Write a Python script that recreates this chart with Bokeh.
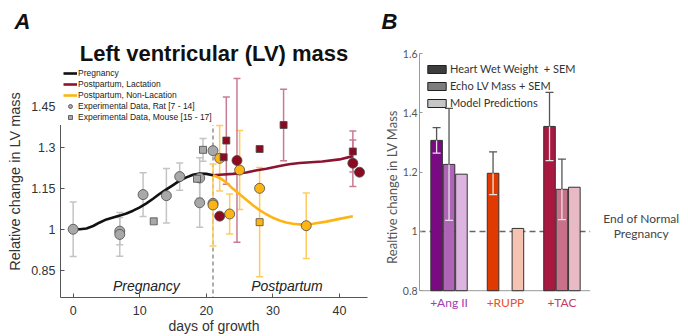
from bokeh.plotting import figure
from bokeh.layouts import row, column
from bokeh.models import (ColumnDataSource, Whisker, TeeHead, Span, Title,
                          Legend, LegendItem, FixedTicker)
from bokeh.core.properties import value
from bokeh.embed import file_html
from bokeh.resources import INLINE

# ---------------- Panel A data (days of growth, relative LV mass) ----------------
preg_model_day = [0, 1, 2, 3, 4, 5, 6, 7, 8, 9, 10, 11, 12, 13, 14, 15, 16, 17, 18, 19, 20, 21]
preg_model_val = [1.0, 1.0, 1.003, 1.012, 1.025, 1.036, 1.043, 1.05, 1.058, 1.068, 1.08, 1.095,
                  1.112, 1.13, 1.146, 1.162, 1.178, 1.19, 1.2, 1.204, 1.203, 1.198]

lact_model_day = [21, 22, 24, 26, 27.4, 29, 31, 32.4, 34, 37.4, 40, 42]
lact_model_val = [1.198, 1.2, 1.203, 1.208, 1.215, 1.222, 1.232, 1.238, 1.243, 1.248, 1.256, 1.268]

nonlact_model_day = [21, 22, 23, 24, 25, 26, 27, 28, 29, 30, 31, 32, 33, 34, 35, 36, 38, 40, 42]
nonlact_model_val = [1.198, 1.188, 1.172, 1.148, 1.128, 1.108, 1.088, 1.07, 1.055, 1.042, 1.032,
                     1.025, 1.02, 1.018, 1.018, 1.02, 1.028, 1.038, 1.048]

rat_preg_day = [0, 7, 7, 10.5, 14.0, 16.0, 19.0, 19.0, 21.0, 21.0]
rat_preg_val = [1.0, 0.993, 0.981, 1.127, 1.123, 1.193, 1.188, 1.097, 1.288, 1.095]
rat_preg_err = [0.10, 0.05, 0.08, 0.08, 0.10, 0.05, 0.074, 0.09, 0.0, 0.0]

mouse_preg_day = [12.1, 18.6, 19.5]
mouse_preg_val = [1.029, 1.185, 1.291]
mouse_preg_err = [0.0, 0.0, 0.042]

rat_lact_day = [22.0, 24.6, 42.0, 43.0]
rat_lact_val = [1.048, 1.252, 1.242, 1.209]
rat_lact_err = [0.0, 0.30, 0.085, 0.0]

mouse_lact_day = [22.6, 23.0, 28.0, 31.6, 42.0]
mouse_lact_val = [1.264, 1.325, 1.294, 1.382, 1.285]
mouse_lact_err = [0.0, 0.16, 0.0, 0.131, 0.075]

rat_nonlact_day = [21.0, 22.0, 23.5, 25.0, 28.0, 35.0]
rat_nonlact_val = [1.089, 1.26, 1.056, 1.217, 1.15, 1.013]
rat_nonlact_err = [0.15, 0.12, 0.073, 0.145, 0.0, 0.12]

mouse_nonlact_day = [28.0]
mouse_nonlact_val = [1.026]
mouse_nonlact_err = [0.2]

end_of_pregnancy_day = 21
a_yticks = [0.85, 1.0, 1.15, 1.3, 1.45]
a_ytick_labels = ["0.85", "1", "1.15", "1.3", "1.45"]
a_xticks = [0, 10, 20, 30, 40]

# ---------------- Panel B data ----------------
groups = ["+Ang II", "+RUPP", "+TAC"]
hww_mean = [1.307, 1.196, 1.354]
hww_sem = [0.043, 0.072, 0.115]
echo_mean = [1.226, None, 1.142]
echo_sem = [0.189, None, 0.102]
model_pred = [1.193, 1.010, 1.149]
b_yticks = [0.8, 1.0, 1.2, 1.4, 1.6]
b_ytick_labels = ["0.8", "1", "1.2", "1.4", "1.6"]
b_reference_level = 1.0

FONT_A = "Liberation Sans"
FONT_B = "Lato"

# ======================= Panel A =======================
pA = figure(width=380, height=336, x_range=(-1.9, 44.2), y_range=(0.75, 1.6),
            output_backend="svg", toolbar_location=None,
            min_border_left=60, min_border_right=13, min_border_top=65, min_border_bottom=39)
pA.outline_line_color = None
pA.xgrid.visible = False
pA.ygrid.visible = False

# outermost title: panel letter
pA.title.text = "A"
pA.title.align = "left"
pA.title.offset = -46
pA.title.standoff = 10
pA.title.text_font = FONT_A
pA.title.text_font_size = "22px"
pA.title.text_font_style = "bold italic"
pA.title.text_color = "#111"
# inner title: chart title
pA.add_layout(Title(text="Left ventricular (LV) mass", align="center", standoff=0,
                    text_font=FONT_A, text_font_size="22px", text_font_style="bold",
                    text_color="#111"), "above")

pA.xaxis.ticker = FixedTicker(ticks=a_xticks)
pA.yaxis.ticker = FixedTicker(ticks=a_yticks)
pA.yaxis.major_label_overrides = {t: l for t, l in zip(a_yticks, a_ytick_labels)}
pA.xaxis.axis_label = "days of growth"
pA.yaxis.axis_label = "Relative change in LV mass"
for ax in (pA.xaxis[0], pA.yaxis[0]):
    ax.axis_line_color = "#555"
    ax.major_tick_line_color = "#555"
    ax.major_tick_in = 4
    ax.major_tick_out = 0
    ax.minor_tick_line_color = None
    ax.major_label_text_font = FONT_A
    ax.major_label_text_font_size = "12.5px"
    ax.major_label_text_color = "#333"
    ax.axis_label_text_font = FONT_A
    ax.axis_label_text_font_style = "normal"
    ax.axis_label_text_color = "#333"
pA.xaxis.axis_label_text_font_size = "14px"
pA.yaxis.axis_label_text_font_size = "14.5px"
pA.xaxis.major_label_standoff = 8
pA.xaxis.axis_label_standoff = 0
pA.yaxis.major_label_standoff = 5
pA.yaxis.axis_label_standoff = 5

pA.add_layout(Span(location=end_of_pregnancy_day, dimension="height", line_color="#777",
                   line_dash="4 3", line_width=1.2, level="underlay"))


def add_err(p, days, vals, errs, color, size=7):
    xs = [d for d, e in zip(days, errs) if e and e > 0]
    lo = [v - e for v, e in zip(vals, errs) if e and e > 0]
    hi = [v + e for v, e in zip(vals, errs) if e and e > 0]
    src = ColumnDataSource(dict(x=xs, lo=lo, hi=hi))
    w = Whisker(source=src, base="x", lower="lo", upper="hi", dimension="height",
                line_color=color, line_width=1.5, level="underlay",
                upper_head=TeeHead(size=size, line_color=color, line_width=1.5),
                lower_head=TeeHead(size=size, line_color=color, line_width=1.5))
    p.add_layout(w)


GRAY_ERR = "#c4c4c4"
YEL_ERR = "#ffcc5c"
RED_ERR = "#c97b93"
add_err(pA, rat_preg_day, rat_preg_val, rat_preg_err, GRAY_ERR)
add_err(pA, mouse_preg_day, mouse_preg_val, mouse_preg_err, GRAY_ERR)
add_err(pA, rat_nonlact_day, rat_nonlact_val, rat_nonlact_err, YEL_ERR)
add_err(pA, mouse_nonlact_day, mouse_nonlact_val, mouse_nonlact_err, YEL_ERR)
add_err(pA, rat_lact_day, rat_lact_val, rat_lact_err, RED_ERR)
add_err(pA, mouse_lact_day, mouse_lact_val, mouse_lact_err, RED_ERR)

BLACK = "#111111"
RED = "#8c1430"
YEL = "#fdb515"
RED_PT = "#8b0a20"
GRAY_PT = "#a8a8a8"
EDGE = "#4a4a4a"

r_preg = pA.line(preg_model_day, preg_model_val, line_color=BLACK, line_width=2.6)
r_lact = pA.line(lact_model_day, lact_model_val, line_color=RED, line_width=2.6)
r_nonl = pA.line(nonlact_model_day, nonlact_model_val, line_color=YEL, line_width=2.6)

r_rat = pA.scatter(rat_preg_day, rat_preg_val, marker="circle", size=10,
                   fill_color=GRAY_PT, line_color=EDGE, line_width=0.8)
r_mouse = pA.scatter(mouse_preg_day, mouse_preg_val, marker="square", size=7,
                     fill_color=GRAY_PT, line_color=EDGE, line_width=0.8)
pA.scatter(rat_nonlact_day, rat_nonlact_val, marker="circle", size=10,
           fill_color=YEL, line_color=EDGE, line_width=0.8)
pA.scatter(mouse_nonlact_day, mouse_nonlact_val, marker="square", size=7,
           fill_color=YEL, line_color=EDGE, line_width=0.8)
pA.scatter(rat_lact_day, rat_lact_val, marker="circle", size=10,
           fill_color=RED_PT, line_color=EDGE, line_width=0.8)
pA.scatter(mouse_lact_day, mouse_lact_val, marker="square", size=7,
           fill_color=RED_PT, line_color=EDGE, line_width=0.8)

pA.text(x=[11.0], y=[0.791], text=["Pregnancy"], text_font=value(FONT_A),
        text_font_style="italic", text_font_size="14px", text_align="center",
        text_baseline="middle", text_color="#222")
pA.text(x=[32.1], y=[0.791], text=["Postpartum"], text_font=value(FONT_A),
        text_font_style="italic", text_font_size="14px", text_align="center",
        text_baseline="middle", text_color="#222")

legA = Legend(items=[
    LegendItem(label="Pregnancy", renderers=[r_preg]),
    LegendItem(label="Postpartum, Lactation", renderers=[r_lact]),
    LegendItem(label="Postpartum, Non-Lacation", renderers=[r_nonl]),
    LegendItem(label="Experimental Data, Rat [7 - 14]", renderers=[r_rat]),
    LegendItem(label="Experimental Data, Mouse [15 - 17]", renderers=[r_mouse]),
], location="top_left")
legA.label_text_font = FONT_A
legA.label_text_font_size = "8.5px"
legA.label_text_color = "#222"
legA.glyph_width = 14
legA.glyph_height = 10
legA.label_height = 10
legA.spacing = 1
legA.padding = 3
legA.margin = 0
legA.label_standoff = 1
legA.border_line_alpha = 0
legA.background_fill_alpha = 1
pA.add_layout(legA)

# ======================= Panel B =======================
b_xlim = (0.5, 3.5)
B_LEFT = 38                       # px reserved for the y axis of panel B
b_x0 = 0.5 - (B_LEFT - 36.7) / 56.67
b_x1 = b_x0 + (308 - 4 - B_LEFT) / 56.67
pB = figure(width=308, height=336, x_range=(b_x0, b_x1), y_range=(0.6995, b_yticks[-1]),
            output_backend="svg", toolbar_location=None,
            min_border_left=B_LEFT, min_border_right=4, min_border_top=53, min_border_bottom=16)
pB.outline_line_color = None
pB.xgrid.visible = False
pB.ygrid.visible = False
pB.title.text = "B"
pB.title.align = "left"
pB.title.offset = -B_LEFT
pB.title.standoff = 0
pB.title.text_font = FONT_A
pB.title.text_font_size = "22px"
pB.title.text_font_style = "bold italic"
pB.title.text_color = "#111"
# blank spacer between the panel letter and the plot area
pB.add_layout(Title(text=" ", text_font_size="12px", standoff=4), "above")

gx = [i + 1 for i in range(len(groups))]
OFF = 0.22
BW = 0.205
hww_colors = ["#7a0a82", "#e03a00", "#a8183f"]
echo_colors = ["#b064b8", "#e98a66", "#c9708a"]
model_colors = ["#ddb4df", "#f5c3b1", "#e8bac5"]
group_label_colors = ["#a23cb0", "#e8502a", "#c83a64"]
base = b_yticks[0]

# reference line and x baseline
pB.line(x=[b_x0, b_xlim[1]], y=[b_reference_level] * 2, line_color="#666", line_dash="6 4",
        line_width=1.5, level="underlay")
pB.line(x=[b_x0, b_xlim[1]], y=[base] * 2, line_color="#999", line_width=1)

src_h = ColumnDataSource(dict(x=[g - OFF for g in gx], top=hww_mean, c=hww_colors))
pB.vbar(x="x", top="top", bottom=base, width=BW, fill_color="c", line_color="#333",
        line_width=1, source=src_h)
ei = [i for i, v in enumerate(echo_mean) if v is not None]
src_e = ColumnDataSource(dict(x=[gx[i] for i in ei], top=[echo_mean[i] for i in ei],
                              c=[echo_colors[i] for i in ei]))
pB.vbar(x="x", top="top", bottom=base, width=BW, fill_color="c", line_color="#333",
        line_width=1, source=src_e)
src_m = ColumnDataSource(dict(x=[g + OFF for g in gx], top=model_pred, c=model_colors))
pB.vbar(x="x", top="top", bottom=base, width=BW, fill_color="c", line_color="#333",
        line_width=1, source=src_m)


def add_sem(p, xs, means, sems):
    up = ColumnDataSource(dict(x=xs, lo=means, hi=[m + s for m, s in zip(means, sems)]))
    dn = ColumnDataSource(dict(x=xs, lo=[m - s for m, s in zip(means, sems)], hi=means))
    p.add_layout(Whisker(source=up, base="x", lower="lo", upper="hi", dimension="height",
                         line_color="#555", line_width=1.3, level="annotation",
                         upper_head=TeeHead(size=8, line_color="#555", line_width=1.3),
                         lower_head=None))
    p.add_layout(Whisker(source=dn, base="x", lower="lo", upper="hi", dimension="height",
                         line_color="#e4e4e4", line_width=1.3, level="annotation",
                         lower_head=TeeHead(size=8, line_color="#e4e4e4", line_width=1.3),
                         upper_head=None))


add_sem(pB, [g - OFF for g in gx], hww_mean, hww_sem)
add_sem(pB, [gx[i] for i in ei], [echo_mean[i] for i in ei], [echo_sem[i] for i in ei])

# legend proxies (hidden)
lg1 = pB.vbar(x=[gx[0] - OFF], top=[hww_mean[0]], bottom=base, width=BW, fill_color="#3d3d3d",
              line_color="#222", visible=False)
lg2 = pB.vbar(x=[gx[0]], top=[echo_mean[0]], bottom=base, width=BW, fill_color="#7d7d7d",
              line_color="#222", visible=False)
lg3 = pB.vbar(x=[gx[0] + OFF], top=[model_pred[0]], bottom=base, width=BW, fill_color="#c6c6c6",
              line_color="#222", visible=False)
legB = Legend(items=[
    LegendItem(label="Heart Wet Weight  + SEM", renderers=[lg1]),
    LegendItem(label="Echo LV Mass + SEM", renderers=[lg2]),
    LegendItem(label="Model Predictions", renderers=[lg3]),
], location="top_left")
legB.label_text_font = FONT_B
legB.label_text_font_size = "11px"
legB.label_text_color = "#333"
legB.glyph_width = 23
legB.glyph_height = 10
legB.label_height = 10
legB.spacing = 4
legB.padding = 6
legB.margin = 0
legB.label_standoff = 2
legB.border_line_alpha = 0
legB.background_fill_alpha = 0
legB.title = " "
legB.title_text_font_size = "2px"
legB.title_standoff = 1
pB.add_layout(legB)

pB.xaxis.visible = False
pB.yaxis.ticker = FixedTicker(ticks=b_yticks)
pB.yaxis.bounds = (b_yticks[0], b_yticks[-1])
pB.yaxis.major_label_overrides = {t: l for t, l in zip(b_yticks, b_ytick_labels)}
pB.yaxis.axis_label = "Realtive change in LV Mass"
ay = pB.yaxis[0]
ay.axis_line_color = "#999"
ay.major_tick_line_color = "#999"
ay.major_tick_in = 3
ay.major_tick_out = 0
ay.minor_tick_line_color = None
ay.major_label_text_font = FONT_B
ay.major_label_text_font_size = "10.5px"
ay.major_label_text_color = "#555"
ay.axis_label_text_font = FONT_B
ay.axis_label_text_font_size = "13px"
ay.axis_label_text_font_style = "normal"
ay.axis_label_text_color = "#555"
ay.major_label_standoff = 2
ay.axis_label_standoff = 0

pB.text(x="x", y="y", text="t", text_color="c", y_offset=12,
        source=ColumnDataSource(dict(x=gx, y=[base] * len(gx), t=groups, c=group_label_colors)),
        text_font=value(FONT_B), text_font_size="12px", text_align="center",
        text_baseline="middle")

pB.text(x=[4.405], y=[b_reference_level], text=["End of Normal"], y_offset=-13,
        text_font=value(FONT_B), text_font_size="12px", text_color="#444",
        text_align="center", text_baseline="middle")
pB.text(x=[4.405], y=[b_reference_level], text=["Pregnancy"], y_offset=2,
        text_font=value(FONT_B), text_font_size="12px", text_color="#444",
        text_align="center", text_baseline="middle")

layout = row(column(pA), column(pB))
open("out.html", "w").write(file_html(layout, INLINE))
